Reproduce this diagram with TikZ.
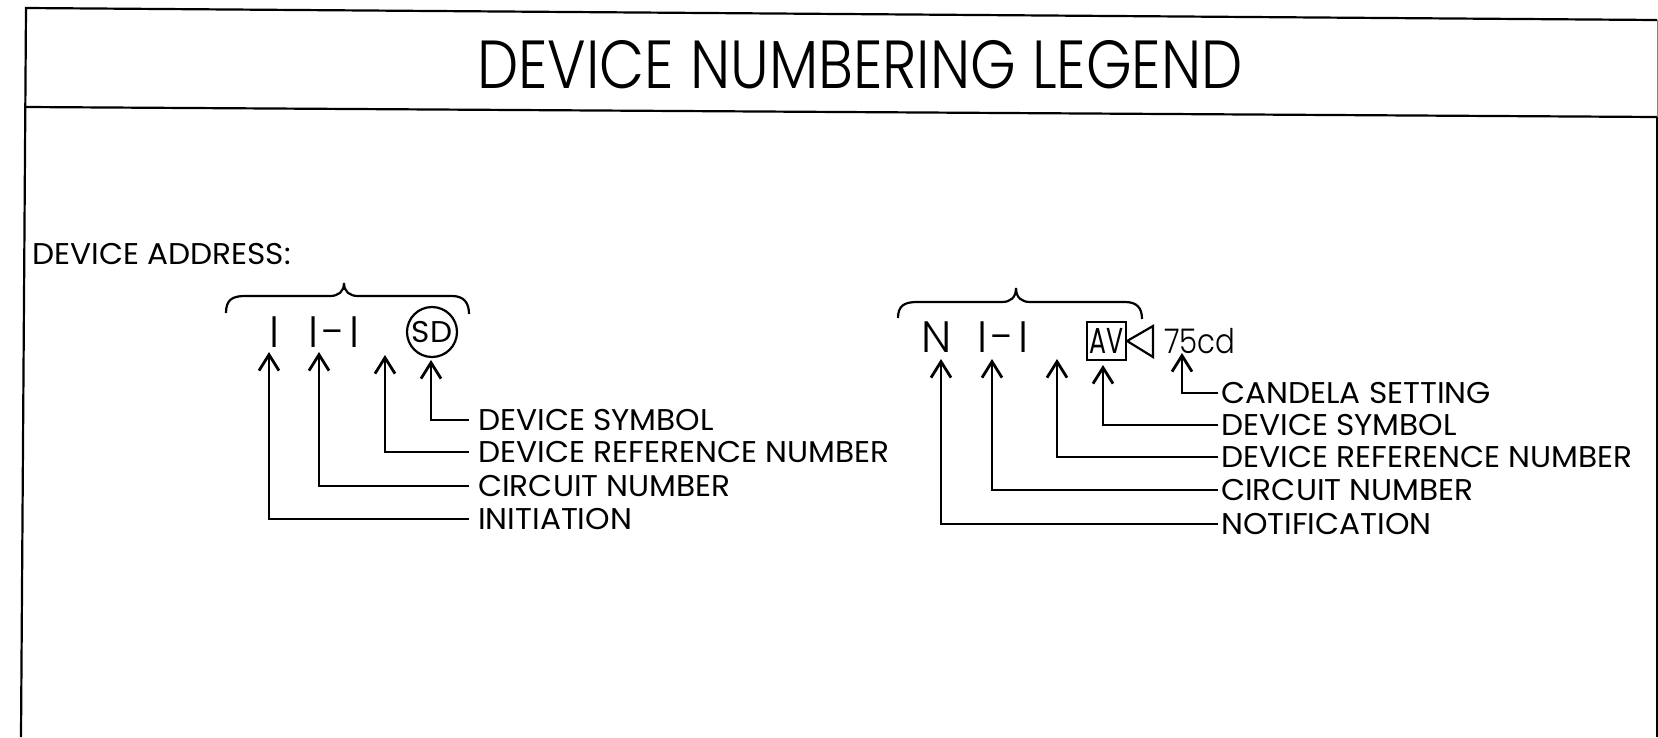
\documentclass[tikz,border=0pt]{standalone}
\usepackage{fontspec}
\setmainfont{Poppins}[FakeStretch=1.04]
\newfontfamily\titlefont{Poppins Light}[FakeStretch=0.86]
\newfontfamily\glyphfont{Poppins Light}
\newfontfamily\symbfont{Poppins}[FakeStretch=0.7]
\usetikzlibrary{arrows.meta, positioning}
\tikzset{
    framing/.style={line width=2.2pt},
    inkline/.style={line width=2.2pt},
    pointer/.style={line width=2.2pt, -{Straight Barb[length=16pt, width=20pt, line width=2.8pt]}},
    calllabel/.style={anchor=west, inner ysep=0pt, text height=21pt, text depth=0pt, font=\fontsize{30}{32}\selectfont},
    glyph/.style={inner sep=0pt, font=\glyphfont\fontsize{44}{46}\selectfont}
}
\begin{document}
\begin{tikzpicture}[x=1pt, y=-1pt]
        \useasboundingbox (0,0) rectangle (1658,737);

        % Frame
        \draw[framing] (1657,20) -- (26,8) -- (21,737);
        \draw[framing] (26,107) -- (1657,117);
        \draw[line width=0.8pt, black!50] (1657,20) -- (1657,117);
        \draw[framing] (1657,117) -- (1657,737);

        % Headings
        \node[inner sep=0pt, font=\titlefont\fontsize{68}{70}\selectfont] (title) at (860,65) {DEVICE NUMBERING LEGEND};
        \node[calllabel, inner xsep=0pt] (address) at (32,254) {DEVICE ADDRESS:};

        % Left group
        \draw[inkline] (226,313) .. controls (226,300) and (232,296) .. (245,296) -- (330,296) .. controls (338,296) and (344,292) .. (344,283) .. controls (344,292) and (350,296) .. (358,296) -- (452,296) .. controls (464,296) and (469,303) .. (469,314);
        \node[glyph] (initletter) at (275,332) {I};
        \node[glyph] (initcircuit) at (334,332) {I\kern4pt-\kern4pt I};
        \node[circle, draw, inkline, minimum size=50pt, inner sep=0pt, font=\fontsize{30}{32}\selectfont] (sdsymbol) at (432,332) {SD};

        \coordinate (initone) at (269,352);
        \coordinate (inittwo) at (319,352);
        \coordinate (initthree) at (385,355);
        \coordinate (initfour) at (431,360);

        \node[calllabel, inner xsep=9pt] (sdname) at (469,420) {DEVICE SYMBOL};
        \node[calllabel, inner xsep=9pt] (sdref) at (469,452) {DEVICE REFERENCE NUMBER};
        \node[calllabel, inner xsep=9pt] (sdcircuit) at (469,486) {CIRCUIT NUMBER};
        \node[calllabel, inner xsep=9pt] (sdinit) at (469,519) {INITIATION};

        \draw[pointer] (sdname.west) -| (initfour);
        \draw[pointer] (sdref.west) -| (initthree);
        \draw[pointer] (sdcircuit.west) -| (inittwo);
        \draw[pointer] (sdinit.west) -| (initone);

        % Right group
        \draw[inkline] (898,318) .. controls (898,306) and (904,302) .. (917,302) -- (1002,302) .. controls (1010,302) and (1016,298) .. (1016,288) .. controls (1016,298) and (1022,302) .. (1030,302) -- (1125,302) .. controls (1137,302) and (1142,308) .. (1142,319);
        \node[glyph] (notifletter) at (937,337) {N};
        \node[glyph] (notifcircuit) at (1003,337) {I\kern4pt-\kern4pt I};
        \node[rectangle, draw, inkline, minimum width=39pt, minimum height=38pt, inner sep=0pt, font=\symbfont\fontsize{36}{38}\selectfont] (avsymbol) at (1106.5,341) {AV};
        \draw[inkline] (avsymbol.east) -- (1153,326) -- (1153,357) -- cycle;
        \node[inner sep=0pt, font=\titlefont\fontsize{34}{36}\selectfont] (candela) at (1200,341) {75cd};

        \coordinate (notifone) at (941,359);
        \coordinate (notiftwo) at (992,359);
        \coordinate (notifthree) at (1057,359);
        \coordinate (notiffour) at (1103,365);
        \coordinate (notiffive) at (1182,353);

        \node[calllabel, inner xsep=3pt] (avcandela) at (1218,393) {CANDELA SETTING};
        \node[calllabel, inner xsep=3pt] (avname) at (1218,425) {DEVICE SYMBOL};
        \node[calllabel, inner xsep=3pt] (avref) at (1218,457) {DEVICE REFERENCE NUMBER};
        \node[calllabel, inner xsep=3pt] (avcircuit) at (1218,490) {CIRCUIT NUMBER};
        \node[calllabel, inner xsep=3pt] (avnotif) at (1218,524) {NOTIFICATION};

        \draw[pointer] (avcandela.west) -| (notiffive);
        \draw[pointer] (avname.west) -| (notiffour);
        \draw[pointer] (avref.west) -| (notifthree);
        \draw[pointer] (avcircuit.west) -| (notiftwo);
        \draw[pointer] (avnotif.west) -| (notifone);

\end{tikzpicture}
\end{document}
